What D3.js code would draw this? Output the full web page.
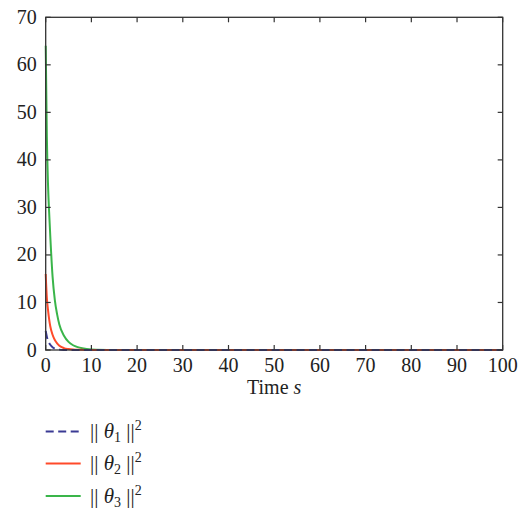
<!DOCTYPE html>
<html><head><meta charset="utf-8">
<script src="https://cdn.jsdelivr.net/npm/d3@7"></script>
<style>body{margin:0;background:#fff}</style>
</head><body>
<svg id="c" width="528" height="510"></svg>
<script>
const times  = [0,0.25,0.5,0.75,1,1.5,2,2.5,3,4,5,6,7,8,10,15,20,30,40,50,60,70,80,90,100];
const theta1 = [4,2.8,2.0,1.5,1.1,0.6,0.3,0.15,0.08,0.02,0,0,0,0,0,0,0,0,0,0,0,0,0,0,0];
const theta2 = [16,11,8.5,6.5,5.0,3.2,2.1,1.4,0.9,0.4,0.2,0.1,0.05,0.03,0,0,0,0,0,0,0,0,0,0,0];
const theta3 = [64,45,35,29,24,15.5,10.5,7.5,5.3,3.0,1.7,1.0,0.6,0.35,0.12,0.02,0,0,0,0,0,0,0,0,0];
const xTicks = [0,10,20,30,40,50,60,70,80,90,100];
const yTicks = [0,10,20,30,40,50,60,70];
const seriesNames = ["1","2","3"];
const colors = ["#3a3a94","#ff4a2a","#3ab54a"];

const svg = d3.select("#c");
const L=45.7, R=502.7, T=17.3, B=350;
const x = d3.scaleLinear().domain([0,100]).range([L,R]);
const y = d3.scaleLinear().domain([0,70]).range([B,T]);
const font = "'Liberation Serif', 'DejaVu Serif', serif";
const axisColor = "#333";
const fs = 20;

const series = [theta1, theta2, theta3];
const line = d3.line().x(d=>x(d[0])).y(d=>y(d[1])).curve(d3.curveMonotoneX);
[2,1,0].forEach(i=>{
  svg.append("path")
    .datum(times.map((t,j)=>[t,series[i][j]]))
    .attr("d", line)
    .attr("fill","none")
    .attr("stroke",colors[i])
    .attr("stroke-width",2)
    .attr("stroke-dasharray", i===0 ? "8,4.5" : null);
});

const g = svg.append("g");
g.append("rect").attr("x",L).attr("y",T).attr("width",R-L).attr("height",B-T)
  .attr("fill","none").attr("stroke",axisColor).attr("stroke-width",1.3);

const tl = 5;
xTicks.forEach(v=>{
  g.append("line").attr("x1",x(v)).attr("x2",x(v)).attr("y1",B).attr("y2",B-tl).attr("stroke",axisColor).attr("stroke-width",1.2);
  g.append("line").attr("x1",x(v)).attr("x2",x(v)).attr("y1",T).attr("y2",T+tl).attr("stroke",axisColor).attr("stroke-width",1.2);
  g.append("text").attr("x",x(v)).attr("y",B+22).attr("text-anchor","middle")
    .attr("font-family",font).attr("font-size",fs).attr("fill","#222").text(v);
});
yTicks.forEach(v=>{
  g.append("line").attr("x1",L).attr("x2",L+tl).attr("y1",y(v)).attr("y2",y(v)).attr("stroke",axisColor).attr("stroke-width",1.2);
  g.append("line").attr("x1",R).attr("x2",R-tl).attr("y1",y(v)).attr("y2",y(v)).attr("stroke",axisColor).attr("stroke-width",1.2);
  g.append("text").attr("x",L-9).attr("y",y(v)+6.5).attr("text-anchor","end")
    .attr("font-family",font).attr("font-size",fs).attr("fill","#222").text(v);
});

const xl = g.append("text").attr("x",(L+R)/2).attr("y",B+44).attr("text-anchor","middle")
  .attr("font-family",font).attr("font-size",fs).attr("fill","#222");
xl.append("tspan").text("Time ");
xl.append("tspan").attr("font-style","italic").text("s");

const legY = [431.5, 463.5, 496];
seriesNames.forEach((n,i)=>{
  svg.append("line").attr("x1",45.7).attr("x2",80.7).attr("y1",legY[i]).attr("y2",legY[i])
    .attr("stroke",colors[i]).attr("stroke-width",2)
    .attr("stroke-dasharray", i===0 ? "8,4.5" : null);
  const t = svg.append("text").attr("x",90).attr("y",legY[i]+6.5)
    .attr("font-family",font).attr("font-size",21).attr("fill","#222");
  t.append("tspan").text("|| ");
  t.append("tspan").attr("font-style","italic").text("θ");
  t.append("tspan").attr("font-size",14).attr("dy",4).text(n);
  t.append("tspan").attr("dy",-4).text(" ||");
  t.append("tspan").attr("font-size",14).attr("dy",-8).text("2");
});
</script>
</body></html>
